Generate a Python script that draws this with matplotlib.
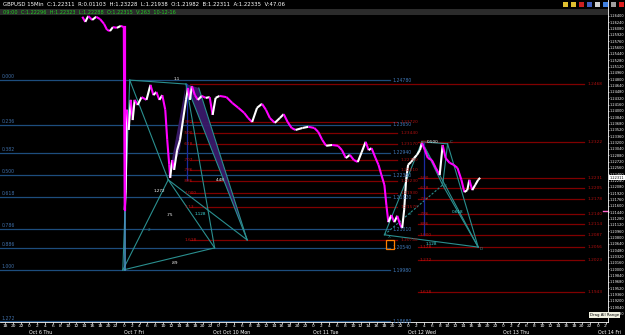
import matplotlib
matplotlib.use("Agg")
import matplotlib.pyplot as plt
from matplotlib.patches import Polygon, Rectangle
import numpy as np

# ---------------- data ----------------
# 15-min bar index since Oct 6 00:00 (weekend removed) and price
bars = [54, 57, 60, 64, 68, 72, 76, 79, 82, 85, 89, 93, 96, 97, 98, 99, 101, 103, 105, 107,
        110, 114, 119, 123, 126, 129, 132, 135, 138, 140, 142, 143, 145, 147, 150, 153, 156,
        159, 161, 163, 165, 168, 171, 175, 179, 183, 186, 189, 193, 200, 206, 212, 218, 222,
        226, 231, 236, 240, 244, 249, 254, 258, 262, 266, 270, 277, 283, 289, 293, 297, 301,
        307, 313, 317, 321, 325, 329, 333, 337, 341, 344, 347, 351, 354, 357, 360, 362, 364,
        367, 370, 373, 376, 378, 380, 382, 384, 387, 390, 393, 396, 398, 401, 404, 408, 412,
        416, 419, 422, 426, 430, 434, 438, 441, 444, 446, 449, 452, 455, 457]
prices = [1.2638, 1.2625, 1.2640, 1.2630, 1.2638, 1.2632, 1.2620, 1.2605, 1.2602, 1.2612,
          1.2610, 1.2615, 1.2612, 1.2150, 1.2200, 1.2403, 1.2352, 1.2428, 1.2377, 1.2428,
          1.2415, 1.2435, 1.2428, 1.2466, 1.2440, 1.2448, 1.2428, 1.2440, 1.2403, 1.2327,
          1.2264, 1.2231, 1.2276, 1.2251, 1.2301, 1.2327, 1.2377, 1.2428, 1.2458, 1.2428,
          1.2463, 1.2440, 1.2428, 1.2438, 1.2433, 1.2435, 1.2390, 1.2433, 1.2438, 1.2435,
          1.2420, 1.2408, 1.2395, 1.2382, 1.2372, 1.2408, 1.2418, 1.2403, 1.2382, 1.2370,
          1.2382, 1.2392, 1.2372, 1.2357, 1.2352, 1.2357, 1.2360, 1.2357, 1.2347, 1.2327,
          1.2312, 1.2314, 1.2312, 1.2301, 1.2281, 1.2289, 1.2276, 1.2271, 1.2296, 1.2322,
          1.2301, 1.2306, 1.2281, 1.2264, 1.2238, 1.2213, 1.2162, 1.2119, 1.2137, 1.2119,
          1.2135, 1.2112, 1.2104, 1.2150, 1.2226, 1.2264, 1.2271, 1.2281, 1.2289, 1.2301,
          1.2319, 1.2301, 1.2281, 1.2276, 1.2256, 1.2238, 1.2314, 1.2281, 1.2269, 1.2264,
          1.2256, 1.2226, 1.2195, 1.2200, 1.2226, 1.2200, 1.2213, 1.2226, 1.2231]
crash_bar, crash_low = 97, 1.1998

# Fibonacci retracement (blue)
fib_ratios = ["0.000", "0.236", "0.382", "0.500", "0.618", "0.786", "0.886", "1.000", "1.272"]
fib_prices = [1.2478, 1.2365, 1.2294, 1.2238, 1.2182, 1.2101, 1.2054, 1.1998, 1.1868]

# Red level set 1 (left pattern) and set 2 (right pattern)
red1_prices = [1.2372, 1.2344, 1.2317, 1.2276, 1.2251, 1.2223, 1.2193, 1.2157, 1.2074]
red1_tags = [".382", ".500", ".618", ".707", ".786", ".886", "1.000", "1.13", "1.618"]
red2_prices = [1.2468, 1.2322, 1.2231, 1.2205, 1.2178, 1.2140, 1.2114, 1.2087, 1.2056, 1.2023, 1.1943]
red2_tags = ["", ".382", ".500", ".618", ".707", ".786", ".886", "1.000", "1.128", "1.272", "1.618"]

# Harmonic pattern pivots (bar, price)
p1 = {"X": (95, 1.1998), "A": (102, 1.2478), "T": (159, 1.2468), "T2": (172, 1.2458),
      "B": (141, 1.2226), "C": (188, 1.2054), "D": (221, 1.2074), "M": (153, 1.2301)}
p2 = {"X": (360, 1.2087), "A": (398, 1.2322), "B": (419, 1.2213), "C": (424, 1.2317),
      "D": (455, 1.2056)}

hour_ticks = list(range(-24, 586, 8))
day_starts = [0, 96, 186, 288, 384, 480, 576]
day_names = ["Oct 6 Thu", "Oct 7 Fri", "Oct Oct 10 Mon", "Oct 11 Tue", "Oct 12 Wed", "Oct 13 Thu", "Oct 14 Fri"]
price_ticks = [round(1.26400 - 0.0016 * i, 5) for i in range(48)]
last_price = 1.22311

# ---------------- figure ----------------
W, H = 625, 335
fig = plt.figure(figsize=(W / 100, H / 100), dpi=100, facecolor="black")
ax_left, ax_right, ax_bottom = 0, 608, 322
ax = fig.add_axes([ax_left / W, 1 - ax_bottom / H, (ax_right - ax_left) / W, ax_bottom / H])
ax.set_facecolor("black")
ax.set_xlim(-29.4, 586.5)
ax.set_ylim(1.18667, 1.26804)

TEAL = "#2a8f8f"
RED = "#800000"
BLUE = "#1d4d7d"

# fib lines
for r, p in zip(fib_ratios, fib_prices):
    ax.plot([-29.4, 366], [p, p], color=BLUE, lw=0.9, zorder=1)
    ax.text(-28, p + 0.0002, r, color="#3f6fa8", fontsize=3.3, va="bottom", ha="left", zorder=5)
    ax.text(368, p, f"{p:.5f}", color="#3f78b8", fontsize=3.3, va="center", ha="left", zorder=5)

# red levels
for p, t in zip(red1_prices, red1_tags):
    ax.plot([163, 373], [p, p], color=RED, lw=0.9, zorder=1)
    ax.text(157, p, t, color="#c01010", fontsize=3.1, va="center", ha="left", zorder=5)
    ax.text(376, p, f"{p:.5f}", color="#b01010", fontsize=3.1, va="center", ha="left", zorder=5)
for i, (p, t) in enumerate(zip(red2_prices, red2_tags)):
    x0 = 163 if i == 0 else 394
    ax.plot([x0, 562], [p, p], color=RED, lw=0.9, zorder=1)
    if t:
        ax.text(396, p, t, color="#c01010", fontsize=3.1, va="center", ha="left", zorder=5)
    ax.text(566, p, f"{p:.4f}", color="#b01010", fontsize=3.1, va="center", ha="left", zorder=5)

# purple fills in pattern 1
ax.add_patch(Polygon([p1["T"], p1["T2"], p1["D"]], closed=True, facecolor="#3a1a6a",
                     edgecolor="none", alpha=0.95, zorder=2))
ax.add_patch(Polygon([p1["B"], p1["T"], p1["M"]], closed=True, facecolor="#3a1a6a",
                     edgecolor="none", alpha=0.95, zorder=2))

def seg(a, b, **kw):
    ax.plot([a[0], b[0]], [a[1], b[1]], **kw)

lk = dict(color=TEAL, lw=0.8, zorder=3)
for a, b in [("X", "A"), ("A", "T"), ("A", "B"), ("X", "B"), ("X", "C"), ("B", "C"),
             ("B", "D"), ("T", "C"), ("T", "D"), ("T2", "D")]:
    seg(p1[a], p1[b], **lk)
ax.plot([160, 160], [1.2468, 1.2226], color="#1a2aa0", lw=0.9, zorder=3)

for a, b in [("X", "A"), ("A", "B"), ("B", "C"), ("C", "D"), ("A", "C"), ("X", "D"),
             ("B", "D"), ("A", "D")]:
    seg(p2[a], p2[b], **lk)
seg(p2["X"], p2["B"], color=TEAL, lw=0.8, ls=(0, (2, 1.5)), zorder=3)
ax.plot([400, 400], [1.2322, 1.2087], color="#1a2aa0", lw=0.9, zorder=3)
ax.add_patch(Rectangle((362, 1.2052), 8, 0.0022, facecolor="none", edgecolor="#ff7f00", lw=0.9, zorder=6))

# pattern labels
for txt, x, y, c in [("1.272", 132, 1.2197, "white"), (".75", 143, 1.2138, "white"),
                     ("4.48", 194, 1.2226, "white"), ("1.128", 174, 1.2140, "#40e0e0"),
                     (".89", 148, 1.2016, "white"), ("2", 122, 1.2100, TEAL),
                     ("X", 365, 1.2082, TEAL), ("C", 428, 1.2322, TEAL), ("B", 421, 1.2210, TEAL),
                     ("D", 458, 1.2050, TEAL), ("0.500", 409, 1.2322, "white"),
                     ("1.128", 408, 1.2065, "#40e0e0"), ("0.618", 434, 1.2145, "#40e0e0"),
                     ("2", 386, 1.2140, TEAL), ("1.1", 150, 1.2480, "white")]:
    ax.text(x, y, txt, color=c, fontsize=3.0, ha="center", va="center", zorder=6)

# price path: white up, magenta down
for i in range(len(bars) - 1):
    up = prices[i + 1] >= prices[i]
    ax.plot(bars[i:i + 2], prices[i:i + 2], color="white" if up else "#ff00ff",
            lw=1.5, solid_capstyle="butt", zorder=4)
ax.plot([crash_bar, crash_bar], [prices[13], crash_low], color="#4a90c0", lw=1.2, zorder=3)
ax.plot([crash_bar, crash_bar], [prices[12], prices[13]], color="#ff00ff", lw=1.6, zorder=4)

# axes styling
for s in ["top", "left"]:
    ax.spines[s].set_visible(False)
ax.spines["right"].set_color("white")
ax.spines["right"].set_linestyle((0, (1, 1)))
ax.spines["right"].set_linewidth(0.6)
ax.spines["bottom"].set_color("white")
ax.spines["bottom"].set_linewidth(0.6)
ax.yaxis.tick_right()
ax.set_yticks(price_ticks)
ax.set_yticklabels([f"{p:.5f}" for p in price_ticks], fontsize=2.5, color="white")
ax.tick_params(axis="y", length=1.0, width=0.5, color="white", pad=0.5)
ax.set_xticks(hour_ticks)
ax.set_xticklabels([str(((b // 4) % 24)) for b in hour_ticks], fontsize=3.2, color="white")
ax.tick_params(axis="x", length=1.2, width=0.5, color="white", pad=0.5)
for d, n in zip(day_starts, day_names):
    ax.text(d, -10 / ax_bottom, n, transform=ax.get_xaxis_transform(), fontsize=3.4, color="white",
            ha="left", va="center", clip_on=False)

# header
fig.patches.append(Rectangle((0, 1 - 15 / H), 608 / W, 6 / H, transform=fig.transFigure,
                             facecolor="#2b2b2b", edgecolor="none", zorder=0))
fig.text(3 / W, 1 - 4.5 / H, "GBPUSD 15Min  C:1.22311  R:0.01103  H:1.23228  L:1.21938  O:1.21982  B:1.22311  A:1.22335  V:47.06",
         color="white", fontsize=3.9, va="center", ha="left")
fig.text(3 / W, 1 - 12 / H, "09:00  C:1.22296  H:1.22323  L:1.22288  O:1.22315  V:263  10-12-16",
         color="#22cc22", fontsize=3.6, va="center", ha="left")
# toolbar glyphs top-right
for xi, c in zip([563, 571, 579, 587, 595, 603, 611, 619],
                 ["#e0c030", "#e0c030", "#cc2020", "#4060c0", "#d0d0d0", "#4080e0", "#a0a0a0", "#dd2020"]):
    fig.patches.append(Rectangle((xi / W, 1 - 7 / H), 5 / W, 5 / H, transform=fig.transFigure,
                                 facecolor=c, edgecolor="none"))

# last price box
ax.text(1.003, last_price, f"{last_price:.5f}", transform=ax.get_yaxis_transform(),
        fontsize=2.5, color="black", ha="left", va="center",
        bbox=dict(boxstyle="square,pad=0.2", facecolor="white", edgecolor="none"), zorder=10, clip_on=False)
ax.plot([0.992, 1.0], [1.2147, 1.2147], transform=ax.get_yaxis_transform(), color="#ff66cc", lw=1.0, clip_on=False)

fig.text(590 / W, 1 - 315 / H, "Drag All Range", fontsize=2.8, color="black", ha="left", va="center",
         bbox=dict(boxstyle="square,pad=0.2", facecolor="#f0f0e0", edgecolor="none"))

fig.savefig("out.png", dpi=100, facecolor="black")
